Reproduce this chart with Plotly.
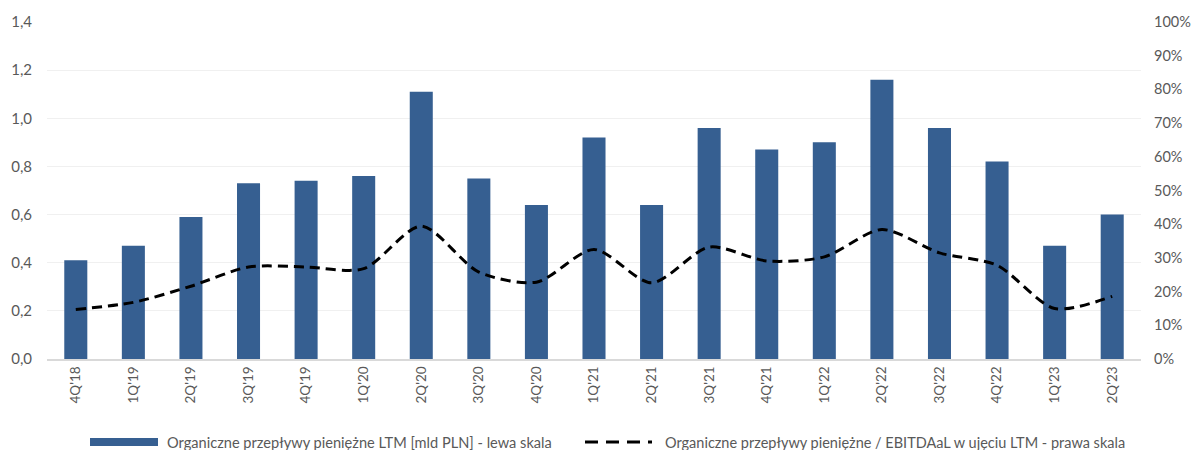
import plotly.graph_objects as go

categories = ["4Q'18", "1Q'19", "2Q'19", "3Q'19", "4Q'19", "1Q'20", "2Q'20", "3Q'20", "4Q'20",
              "1Q'21", "2Q'21", "3Q'21", "4Q'21", "1Q'22", "2Q'22", "3Q'22", "4Q'22", "1Q'23", "2Q'23"]
cash_flow = [0.41, 0.47, 0.59, 0.73, 0.74, 0.76, 1.11, 0.75, 0.64,
             0.92, 0.64, 0.96, 0.87, 0.90, 1.16, 0.96, 0.82, 0.47, 0.60]
ratio = [0.147, 0.168, 0.216, 0.273, 0.273, 0.268, 0.394, 0.258, 0.228,
         0.325, 0.226, 0.332, 0.291, 0.303, 0.384, 0.315, 0.278, 0.150, 0.186]
left_ticks = [0, 0.2, 0.4, 0.6, 0.8, 1.0, 1.2, 1.4]
right_ticks = [i / 10 for i in range(11)]

bar_name = "Organiczne przepływy pieniężne LTM [mld PLN] - lewa skala"
line_name = "Organiczne przepływy pieniężne / EBITDAaL w ujęciu LTM - prawa skala"

BAR_COLOR = "#365F91"
TXT = "#595959"
FONT = "Lato"

fig = go.Figure()
fig.add_trace(go.Bar(x=categories, y=cash_flow, name=bar_name, marker_color=BAR_COLOR,
                     marker_line_width=0, width=0.4, yaxis="y", showlegend=False))
fig.add_trace(go.Scatter(x=categories, y=ratio, name=line_name, mode="lines",
                         line=dict(color="black", width=3, dash="10px,6px", shape="spline", smoothing=0.8),
                         yaxis="y2", showlegend=False))

fig.update_layout(
    width=1193, height=450,
    margin=dict(l=47, r=52, t=22, b=91, autoexpand=False),
    plot_bgcolor="white", paper_bgcolor="white",
    separators=", ",
    font=dict(family=FONT, size=14.5, color=TXT),
    xaxis=dict(type="category", tickangle=-90, showgrid=False, showline=True, automargin=False,
               linecolor="#D9D9D9", linewidth=2, ticks="", tickfont=dict(size=13.5, color=TXT)),
    yaxis=dict(range=[0, 1.4], tickvals=left_ticks, tickformat=".1f", showgrid=True, automargin=False,
               gridcolor="#F0F0F0", gridwidth=1, zeroline=False, ticks="", ticklabelstandoff=14,
               tickfont=dict(size=15)),
    yaxis2=dict(range=[0, 1.0], tickvals=right_ticks, tickformat=".0%", overlaying="y", automargin=False,
                side="right", showgrid=False, zeroline=False, ticks="", ticklabelstandoff=12,
                tickfont=dict(size=14.5)),
    showlegend=False,
)

# custom legend
def px_x(p):
    return (p - 47) / 1094

def px_y(p):
    return (358 - p) / 337

fig.add_shape(type="rect", xref="paper", yref="paper", x0=px_x(90), x1=px_x(158),
              y0=px_y(445), y1=px_y(437), fillcolor=BAR_COLOR, line_width=0)
fig.add_shape(type="line", xref="paper", yref="paper", x0=px_x(585), x1=px_x(652),
              y0=px_y(441), y1=px_y(441), line=dict(color="black", width=3, dash="13px,8px"))
fig.add_annotation(xref="paper", yref="paper", x=px_x(165), y=px_y(441), text=bar_name,
                   showarrow=False, xanchor="left", yanchor="middle", font=dict(size=14.6, color=TXT))
fig.add_annotation(xref="paper", yref="paper", x=px_x(663), y=px_y(441), text=line_name,
                   showarrow=False, xanchor="left", yanchor="middle", font=dict(size=14.5, color=TXT))

fig.write_html("out.html")
